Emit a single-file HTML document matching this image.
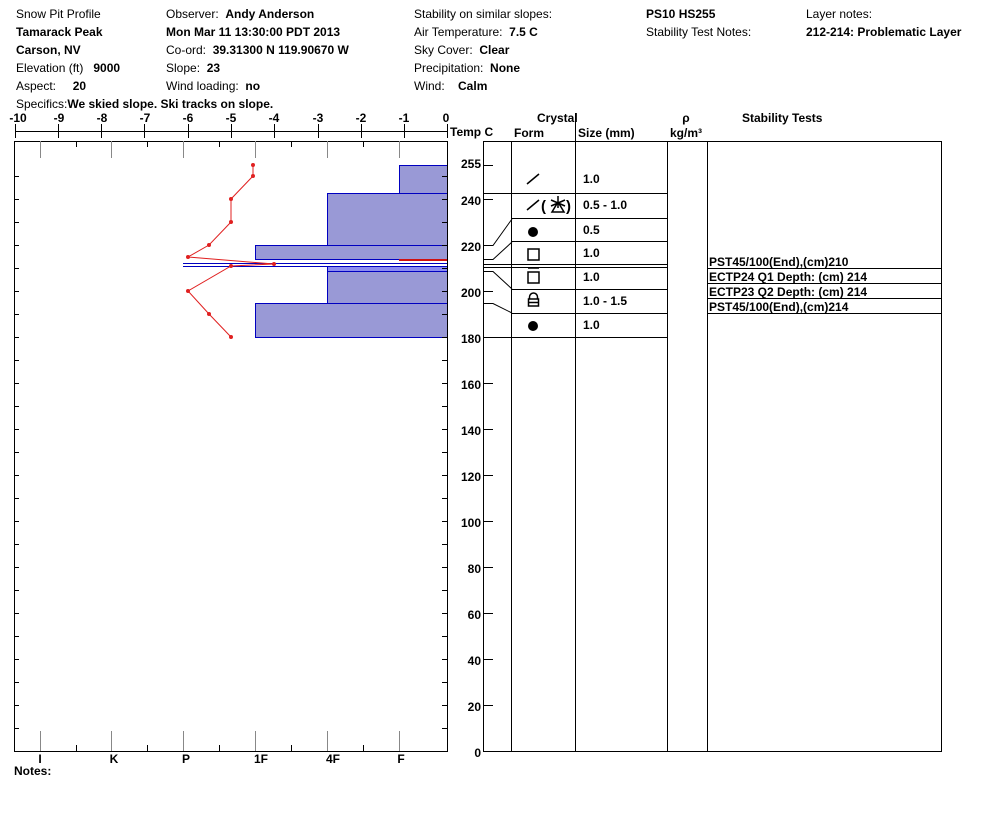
<!DOCTYPE html>
<html><head><meta charset="utf-8"><style>
body{margin:0;background:#fff}
svg{display:block}
text{font-family:"Liberation Sans",Arial,sans-serif;font-size:12px;fill:#000;white-space:pre}
.b{font-weight:bold}
</style></head><body>
<svg width="994" height="840" viewBox="0 0 994 840" xmlns="http://www.w3.org/2000/svg" xml:space="preserve">
<g>
<text x="16" y="18">Snow Pit Profile</text>
<text x="16" y="36" class="b">Tamarack Peak</text>
<text x="16" y="54" class="b">Carson, NV</text>
<text x="16" y="72">Elevation (ft)   <tspan class="b">9000</tspan></text>
<text x="16" y="90">Aspect:     <tspan class="b">20</tspan></text>
<text x="16" y="108">Specifics:<tspan class="b">We skied slope. Ski tracks on slope.</tspan></text>
<text x="166" y="18">Observer:  <tspan class="b">Andy Anderson</tspan></text>
<text x="166" y="36" class="b">Mon Mar 11 13:30:00 PDT 2013</text>
<text x="166" y="54">Co-ord:  <tspan class="b">39.31300 N 119.90670 W</tspan></text>
<text x="166" y="72">Slope:  <tspan class="b">23</tspan></text>
<text x="166" y="90">Wind loading:  <tspan class="b">no</tspan></text>
<text x="414" y="18">Stability on similar slopes:</text>
<text x="414" y="36">Air Temperature:  <tspan class="b">7.5 C</tspan></text>
<text x="414" y="54">Sky Cover:  <tspan class="b">Clear</tspan></text>
<text x="414" y="72">Precipitation:  <tspan class="b">None</tspan></text>
<text x="414" y="90">Wind:    <tspan class="b">Calm</tspan></text>
<text x="646" y="18" class="b">PS10 HS255</text>
<text x="646" y="36">Stability Test Notes:</text>
<text x="806" y="18">Layer notes:</text>
<text x="806" y="36" class="b">212-214: Problematic Layer</text>
</g>
<g stroke="#000" stroke-width="1">
<line x1="15" y1="131.5" x2="447" y2="131.5"/>
<line x1="15.5" y1="124" x2="15.5" y2="138"/><line x1="58.5" y1="124" x2="58.5" y2="138"/><line x1="101.5" y1="124" x2="101.5" y2="138"/><line x1="144.5" y1="124" x2="144.5" y2="138"/><line x1="188.5" y1="124" x2="188.5" y2="138"/><line x1="231.5" y1="124" x2="231.5" y2="138"/><line x1="274.5" y1="124" x2="274.5" y2="138"/><line x1="318.5" y1="124" x2="318.5" y2="138"/><line x1="361.5" y1="124" x2="361.5" y2="138"/><line x1="404.5" y1="124" x2="404.5" y2="138"/><line x1="447.5" y1="124" x2="447.5" y2="138"/>
</g>
<g text-anchor="middle">
<text x="18" y="122" class="b">-10</text><text x="59" y="122" class="b">-9</text><text x="102" y="122" class="b">-8</text><text x="145" y="122" class="b">-7</text><text x="188" y="122" class="b">-6</text><text x="231" y="122" class="b">-5</text><text x="274" y="122" class="b">-4</text><text x="318" y="122" class="b">-3</text><text x="361" y="122" class="b">-2</text><text x="404" y="122" class="b">-1</text><text x="446" y="122" class="b">0</text>
</g>
<text x="450" y="136" class="b">Temp C</text>
<g fill="#9999d6" stroke="#0000c0" stroke-width="1">
<rect x="399.5" y="165.5" width="48" height="28"/>
<rect x="327.5" y="193.5" width="120" height="52"/>
<rect x="255.5" y="245.5" width="192" height="14"/>
<rect x="327.5" y="266.5" width="120" height="5" fill="#8c8cf0"/>
<rect x="327.5" y="271.5" width="120" height="32"/>
<rect x="255.5" y="303.5" width="192" height="34"/>
</g>
<line x1="183" y1="263.5" x2="447" y2="263.5" stroke="#0000c0"/>
<line x1="183" y1="266.5" x2="447" y2="266.5" stroke="#0000c0"/>
<line x1="399" y1="260" x2="447" y2="260" stroke="#d01010" stroke-width="2"/>
<rect x="14.5" y="141.5" width="433" height="610" fill="none" stroke="#000"/>
<g stroke="#888"><line x1="40.5" y1="141" x2="40.5" y2="158"/><line x1="111.5" y1="141" x2="111.5" y2="158"/><line x1="183.5" y1="141" x2="183.5" y2="158"/><line x1="255.5" y1="141" x2="255.5" y2="158"/><line x1="327.5" y1="141" x2="327.5" y2="158"/><line x1="399.5" y1="141" x2="399.5" y2="158"/>
<line x1="40.5" y1="731" x2="40.5" y2="751"/><line x1="111.5" y1="731" x2="111.5" y2="751"/><line x1="183.5" y1="731" x2="183.5" y2="751"/><line x1="255.5" y1="731" x2="255.5" y2="751"/><line x1="327.5" y1="731" x2="327.5" y2="751"/><line x1="399.5" y1="731" x2="399.5" y2="751"/></g>
<g stroke="#000"><line x1="76.5" y1="141" x2="76.5" y2="147"/><line x1="147.5" y1="141" x2="147.5" y2="147"/><line x1="219.5" y1="141" x2="219.5" y2="147"/><line x1="291.5" y1="141" x2="291.5" y2="147"/><line x1="363.5" y1="141" x2="363.5" y2="147"/>
<line x1="76.5" y1="745" x2="76.5" y2="751"/><line x1="147.5" y1="745" x2="147.5" y2="751"/><line x1="219.5" y1="745" x2="219.5" y2="751"/><line x1="291.5" y1="745" x2="291.5" y2="751"/><line x1="363.5" y1="745" x2="363.5" y2="751"/></g>
<g stroke="#000">
<path d="M14 176.5h5M14 199.5h5M14 222.5h5M14 245.5h5M14 268.5h5M14 291.5h5M14 314.5h5M14 337.5h5M14 360.5h5M14 383.5h5M14 406.5h5M14 429.5h5M14 452.5h5M14 475.5h5M14 498.5h5M14 521.5h5M14 544.5h5M14 567.5h5M14 590.5h5M14 613.5h5M14 636.5h5M14 659.5h5M14 682.5h5M14 705.5h5M14 728.5h5"/>
<path d="M442 176.5h5M442 199.5h5M442 222.5h5M442 245.5h5M442 268.5h5M442 291.5h5M442 314.5h5M442 337.5h5M442 360.5h5M442 383.5h5M442 406.5h5M442 429.5h5M442 452.5h5M442 475.5h5M442 498.5h5M442 521.5h5M442 544.5h5M442 567.5h5M442 590.5h5M442 613.5h5M442 636.5h5M442 659.5h5M442 682.5h5M442 705.5h5M442 728.5h5"/>
</g>
<polyline fill="none" stroke="#e02020" points="253,165 253,176 231,199 231,222 209,245 188,257 274,264 231,266 188,291 209,314 231,337"/>
<g fill="#e02020"><circle cx="253" cy="165" r="2"/><circle cx="253" cy="176" r="2"/><circle cx="231" cy="199" r="2"/><circle cx="231" cy="222" r="2"/><circle cx="209" cy="245" r="2"/><circle cx="188" cy="257" r="2"/><circle cx="274" cy="264" r="2"/><circle cx="231" cy="266" r="2"/><circle cx="188" cy="291" r="2"/><circle cx="209" cy="314" r="2"/><circle cx="231" cy="337" r="2"/></g>
<g text-anchor="middle"><text x="40" y="763" class="b">I</text><text x="114" y="763" class="b">K</text><text x="186" y="763" class="b">P</text><text x="261" y="763" class="b">1F</text><text x="333" y="763" class="b">4F</text><text x="401" y="763" class="b">F</text></g>
<text x="14" y="775" class="b">Notes:</text>
<g text-anchor="end">
<text x="481" y="168" class="b">255</text><text x="481" y="205" class="b">240</text><text x="481" y="251" class="b">220</text><text x="481" y="297" class="b">200</text><text x="481" y="343" class="b">180</text><text x="481" y="389" class="b">160</text><text x="481" y="435" class="b">140</text><text x="481" y="481" class="b">120</text><text x="481" y="527" class="b">100</text><text x="481" y="573" class="b">80</text><text x="481" y="619" class="b">60</text><text x="481" y="665" class="b">40</text><text x="481" y="711" class="b">20</text><text x="481" y="757" class="b">0</text>
</g>
<g stroke="#000"><path d="M483 165.5h10M483 199.5h10M483 245.5h10M483 291.5h10M483 337.5h10M483 383.5h10M483 429.5h10M483 475.5h10M483 521.5h10M483 567.5h10M483 613.5h10M483 659.5h10M483 705.5h10"/></g>
<g stroke="#000" fill="none">
<rect x="483.5" y="141.5" width="458" height="610"/>
<line x1="511.5" y1="141" x2="511.5" y2="751"/>
<line x1="575.5" y1="113" x2="575.5" y2="751"/>
<line x1="667.5" y1="141" x2="667.5" y2="751"/>
<line x1="707.5" y1="141" x2="707.5" y2="751"/>
<path d="M483 193.5h184M511 218.5h156M511 241.5h156M483 264.5h184M483 267.5h184M511 289.5h156M511 313.5h156M483 337.5h184"/>
<path d="M483 245.5h10L512 219M483 259.5h10L512 242M483 271.5h10L512 289M483 303.5h10L512 313"/>
<path d="M707 268.5h234M707 283.5h234M707 298.5h234M707 313.5h234"/>
</g>
<text x="537" y="122" class="b">Crystal</text>
<text x="514" y="137" class="b">Form</text>
<text x="578" y="137" class="b">Size (mm)</text>
<text x="686" y="122" class="b" text-anchor="middle">ρ</text>
<text x="686" y="137" class="b" text-anchor="middle">kg/m³</text>
<text x="742" y="122" class="b">Stability Tests</text>
<g stroke="#000" stroke-width="1.5" fill="none">
<line x1="527" y1="184" x2="539" y2="174"/>
<line x1="527" y1="210" x2="539" y2="200"/>
<rect x="528" y="249" width="11" height="11"/>
<line x1="528" y1="268" x2="539" y2="268"/>
<rect x="528" y="272" width="11" height="11"/>
<rect x="528.5" y="299" width="10" height="7"/>
<path d="M529.5 299v-2a4 4 0 0 1 8 0v2"/>
<line x1="529" y1="302.5" x2="538" y2="302.5"/>
</g>
<text x="541" y="211" class="b" style="font-size:15px">(</text>
<g stroke="#000" stroke-width="1.5" fill="none"><path d="M552 212 L558 202 L564 212 Z M551 200 L565 206 M551 206 L565 200 M558 196 v12"/></g>
<text x="566" y="211" class="b" style="font-size:15px">)</text>
<g fill="#000"><circle cx="533" cy="232" r="5"/><circle cx="533" cy="326" r="5"/></g>
<g><text x="583" y="183" class="b">1.0</text><text x="583" y="209" class="b">0.5 - 1.0</text><text x="583" y="234" class="b">0.5</text><text x="583" y="257" class="b">1.0</text><text x="583" y="281" class="b">1.0</text><text x="583" y="305" class="b">1.0 - 1.5</text><text x="583" y="329" class="b">1.0</text></g>
<g><text x="709" y="266" class="b">PST45/100(End),(cm)210</text><text x="709" y="281" class="b">ECTP24 Q1 Depth: (cm) 214</text><text x="709" y="296" class="b">ECTP23 Q2 Depth: (cm) 214</text><text x="709" y="311" class="b">PST45/100(End),(cm)214</text></g>
</svg>
</body></html>
